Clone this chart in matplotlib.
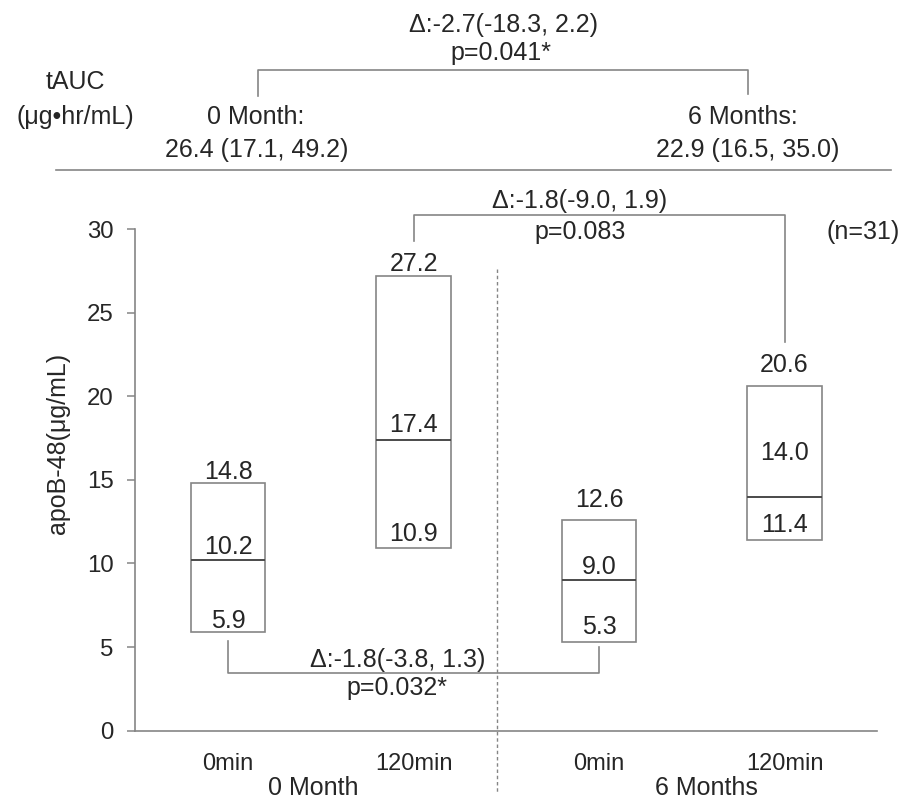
import matplotlib
matplotlib.use("Agg")
import matplotlib.pyplot as plt
from matplotlib.lines import Line2D

# ---------------- data ----------------
groups = ["0 Month", "6 Months"]
times = ["0min", "120min", "0min", "120min"]
q1 = [5.9, 10.9, 5.3, 11.4]
median = [10.2, 17.4, 9.0, 14.0]
q3 = [14.8, 27.2, 12.6, 20.6]
n_label = "(n=31)"
ylabel = "apoB-48(μg/mL)"
yticks = [0, 5, 10, 15, 20, 25, 30]

tauc_title = ["tAUC", "(μg•hr/mL)"]
tauc_groups = ["0 Month:", "6 Months:"]
tauc_values = ["26.4 (17.1, 49.2)", "22.9 (16.5, 35.0)"]
tauc_delta = "Δ:-2.7(-18.3, 2.2)"
tauc_p = "p=0.041*"

delta_120 = "Δ:-1.8(-9.0, 1.9)"
p_120 = "p=0.083"
delta_0 = "Δ:-1.8(-3.8, 1.3)"
p_0 = "p=0.032*"

# ---------------- style / layout ----------------
W, H = 904, 799
TXT = "#262626"
LINE = "#858585"
MED = "#4a4a4a"
FS = 18
plt.rcParams["font.family"] = ["Liberation Sans", "DejaVu Sans"]

fig = plt.figure(figsize=(W / 100, H / 100), dpi=100)
ax = fig.add_axes([135.3 / W, 1 - 730.7 / H, (877.3 - 135.3) / W, (730.7 - 229) / H])
x = list(range(len(q1)))
ax.set_xlim(-0.5, 3.5)
ax.set_ylim(0, 30)

for s in ["top", "right"]:
    ax.spines[s].set_visible(False)
for s in ["left", "bottom"]:
    ax.spines[s].set_color(LINE)
    ax.spines[s].set_linewidth(1.2)

ax.set_yticks(yticks)
ax.tick_params(axis="y", direction="out", length=6, width=1.1, color=LINE,
               labelsize=17.3, labelcolor=TXT, pad=9.5)
ax.set_xticks([])

# boxes
bw = 0.4
heights = [b - a for a, b in zip(q1, q3)]
ax.bar(x, heights, bottom=q1, width=bw, facecolor="white", edgecolor=LINE,
       linewidth=1.2, zorder=2)
ax.hlines(median, [xi - bw / 2 for xi in x], [xi + bw / 2 for xi in x],
          colors=MED, linewidth=1.4, zorder=3)

# value labels (baseline offsets above each line, in pixels)
off_top = [4, 5, 13, 14]
off_med = [6, 8, 6, 37]
off_bot = [4, 7, 8, 8]
for i in x:
    for val, off in ((q3[i], off_top[i]), (median[i], off_med[i]), (q1[i], off_bot[i])):
        ax.annotate(f"{val:.1f}", (x[i], val), xytext=(0, off * 0.72),
                    textcoords="offset points", ha="center", va="baseline",
                    fontsize=FS, color=TXT, zorder=4, annotation_clip=False)

# x labels
xt = ax.get_xaxis_transform()
for i, t in enumerate(times):
    ax.text(x[i], -0.0783, t, transform=xt, ha="center", va="baseline",
            fontsize=17, color=TXT)
group_x = [0.46, 2.58]
for gx, g in zip(group_x, groups):
    ax.text(gx, -0.128, g, transform=xt, ha="center", va="baseline",
            fontsize=FS, color=TXT)

# separator
ax.plot([1.45, 1.45], [27.6, -3.65], ls=(0, (2.5, 2)), color=LINE, lw=1.0,
        clip_on=False, zorder=1)

# bracket 120min: 0 Month vs 6 Months
yb = 30.84
ax.plot([1, 1, 3, 3], [29.3, yb, yb, 23.25], color=LINE, lw=1.2, clip_on=False)
ax.text(1.897, 31.24, delta_120, ha="center", va="baseline", fontsize=FS, color=TXT)
ax.text(1.897, 29.41, p_120, ha="center", va="baseline", fontsize=FS, color=TXT)
ax.text(3.425, 29.38, n_label, ha="center", va="baseline", fontsize=FS, color=TXT)

# bracket 0min: 0 Month vs 6 Months
yb0 = 3.47
ax.plot([0, 0, 2, 2], [5.36, yb0, yb0, 5.02], color=LINE, lw=1.2, clip_on=False)
ax.text(0.914, 3.83, delta_0, ha="center", va="baseline", fontsize=FS, color=TXT)
ax.text(0.908, 2.135, p_0, ha="center", va="baseline", fontsize=FS, color=TXT)

# ---------------- header (tAUC) ----------------
def ftext(px, py, s, **kw):
    fig.text(px / W, 1 - py / H, s, ha="center", va="baseline",
             fontsize=FS, color=TXT, **kw)

ftext(504, 32.3, tauc_delta)
ftext(501, 60, tauc_p)
ftext(75, 89.3, tauc_title[0])
ftext(75, 124.3, tauc_title[1])
ftext(256, 124.3, tauc_groups[0])
ftext(743, 124.3, tauc_groups[1])
ftext(257, 156.7, tauc_values[0])
ftext(747.5, 156.7, tauc_values[1])

def fline(xs, ys):
    fig.add_artist(Line2D([v / W for v in xs], [1 - v / H for v in ys],
                          color=LINE, lw=1.2))

fline([257.7, 257.7, 747.7, 747.7], [95.7, 70, 70, 94.3])
fline([55.7, 890.7], [170, 170])

fig.text(58 / W, 1 - 443 / H, ylabel, rotation=90, ha="center", va="center",
         fontsize=FS, color=TXT)

fig.savefig("out.png", dpi=100)
